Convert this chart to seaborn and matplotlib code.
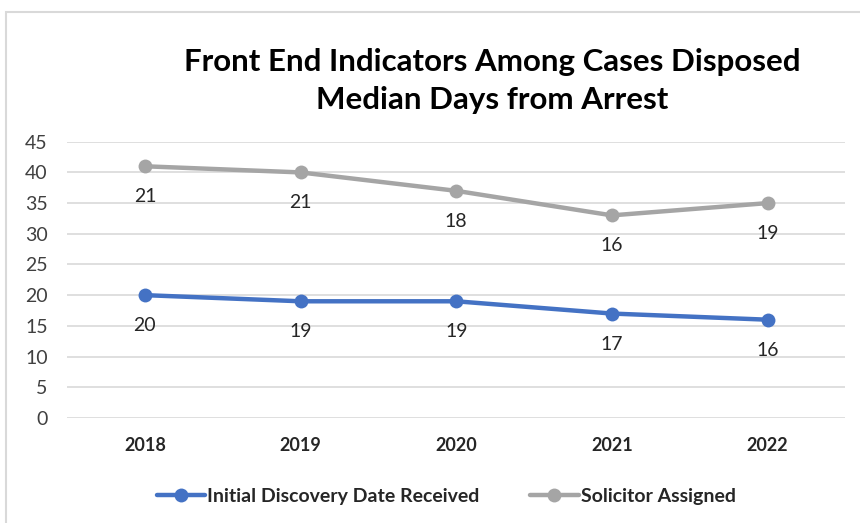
import matplotlib
matplotlib.use("Agg")
import matplotlib.pyplot as plt
import numpy as np
import pandas as pd
import seaborn as sns
from matplotlib.patches import Rectangle

years = ["2018", "2019", "2020", "2021", "2022"]
discovery = [20, 19, 19, 17, 16]
solicitor = [21, 21, 18, 16, 19]
series_names = ["Initial Discovery Date Received", "Solicitor Assigned"]
colors = ["#4472C4", "#A5A5A5"]

# stacked line chart: solicitor series sits on top of discovery
stacked = np.array(discovery) + np.array(solicitor)
df = pd.DataFrame({
    "year": years * 2,
    "value": list(discovery) + list(stacked),
    "label": list(discovery) + list(solicitor),
    "series": [series_names[0]] * 5 + [series_names[1]] * 5,
})

sns.set_theme(style="white")
plt.rcParams["font.family"] = ["Lato", "DejaVu Sans"]

fig = plt.figure(figsize=(8.6, 5.23), dpi=100)
ax = fig.add_axes([0.078, 0.201, 0.905, 0.528])

sns.lineplot(data=df, x="year", y="value", hue="series", palette=colors,
             marker="o", markersize=10, markeredgewidth=0, linewidth=3.2,
             sort=False, ax=ax, legend=True)

for _, r in df.iterrows():
    ax.annotate(str(r["label"]), (r["year"], r["value"]), xytext=(0, -22),
                textcoords="offset points", ha="center", va="center",
                fontsize=14, color="#262626")

ax.set_ylim(0, 45)
ax.set_yticks(range(0, 46, 5))
ax.set_xlim(-0.5, 4.5)
ax.grid(axis="y", color="#D9D9D9", linewidth=1.2)
ax.set_axisbelow(True)
for s in ax.spines.values():
    s.set_visible(False)
ax.set_xlabel("")
ax.set_ylabel("")
ax.tick_params(axis="y", labelsize=14, labelcolor="#404040", pad=14, length=0)
ax.tick_params(axis="x", labelsize=13, labelcolor="#262626", pad=14, length=0)
for t in ax.get_xticklabels():
    t.set_fontweight("bold")

handles, labels = ax.get_legend_handles_labels()
leg = ax.legend(handles, labels, loc="center", bbox_to_anchor=(0.487, -0.285),
                ncol=2, frameon=False, handlelength=2.5, columnspacing=2.6,
                handletextpad=0.1, prop={"size": 14, "weight": "bold"})
for line in leg.get_lines():
    line.set_linewidth(3.2)

fig.text(0.572, 0.845, "Front End Indicators Among Cases Disposed\nMedian Days from Arrest",
         ha="center", va="center", fontsize=22.5, fontweight="bold",
         linespacing=1.45, color="#000000")

fig.patches.append(Rectangle((0.007, -0.05), 1.1, 1.027, transform=fig.transFigure,
                             fill=False, edgecolor="#D9D9D9", linewidth=1.5))

fig.savefig("out.png", dpi=100)
